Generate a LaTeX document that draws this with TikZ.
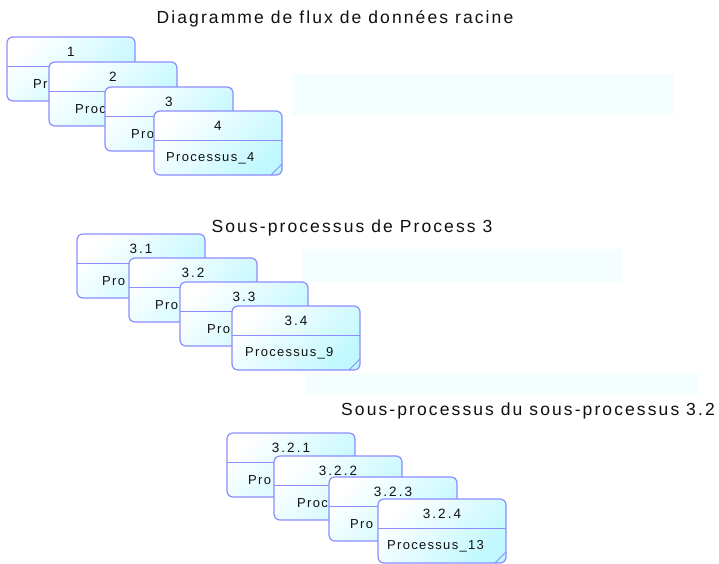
\documentclass[tikz,border=0pt]{standalone}
\usepackage{fontspec}
\setmainfont{Liberation Sans}
\newfontfamily\boxfont[LetterSpace=10]{Liberation Sans}
\newfontfamily\numfont[LetterSpace=15]{Liberation Sans}
\newfontfamily\titlefont[LetterSpace=12]{Liberation Sans}
\definecolor{boxline}{HTML}{8C8CFF}
\definecolor{boxfill}{HTML}{C0F8FF}
\definecolor{pale}{HTML}{F4FEFF}
\definecolor{txt}{HTML}{101010}
\tikzset{
  procbox/.style={draw=boxline, line width=1.2pt, rounded corners=6pt,
    top color=white, bottom color=boxfill, shading angle=45},
  numtxt/.style={font=\numfont\fontsize{13.5}{13.5}\selectfont, text=txt, anchor=center, inner sep=0pt},
  nametxt/.style={font=\boxfont\fontsize{13}{13}\selectfont, text=txt, anchor=west, inner sep=0pt},
  titletxt/.style={font=\titlefont\fontsize{17.5}{17.5}\selectfont, text=txt, anchor=center, inner sep=0pt},
  palebox/.style={fill=pale, draw=none}
}
% #1 name, #2 left, #3 top, #4 number, #5 label, #6 label offset
\newcommand{\procnode}[6]{%
  \path[procbox] (#2,#3) rectangle ++(128,64);
  \coordinate (#1-tl) at (#2,#3);
  \draw[boxline, line width=1pt] (#2,#3+29) -- ++(128,0);
  \draw[boxline, line width=0.8pt] (#2+128,#3+53) -- (#2+117,#3+64);
  \node[numtxt] (#1-num) at (#2+64,#3+14.5) {#4};
  \node[nametxt] (#1-name) at (#2+#6,#3+47) {#5};
}
\begin{document}
\begin{tikzpicture}[x=1pt,y=-1pt]
\useasboundingbox (0,0) rectangle (719,563);
\fill[white] (0,0) rectangle (719,563);
% pale background rectangles
\path[palebox] (292,74) rectangle (674,115);
\path[palebox] (302,249) rectangle (622,282);
\path[palebox] (306,373) rectangle (698,395);
% titles
\node[titletxt] (t1) at (335,19) {Diagramme de flux de données racine};
\node[titletxt] (t2) at (352,228) {Sous-processus de Process 3};
\node[titletxt] (t3) at (528,411) {Sous-processus du sous-processus 3.2};
% top group
\procnode{p1}{7}{37}{1}{Pr}{26}
\procnode{p2}{49}{62}{2}{Proc}{26}
\procnode{p3}{105}{87}{3}{Pro}{26}
\procnode{p4}{154}{111}{4}{Processus\_4}{12}
% middle group
\procnode{p31}{77}{234}{3.1}{Pro}{25}
\procnode{p32}{129}{258}{3.2}{Pro}{26}
\procnode{p33}{180}{282}{3.3}{Pro}{27}
\procnode{p34}{232}{306}{3.4}{Processus\_9}{13}
% bottom group
\procnode{p321}{227}{433}{3.2.1}{Pro}{21}
\procnode{p322}{274}{456}{3.2.2}{Proc}{23}
\procnode{p323}{329}{477}{3.2.3}{Pro}{21}
\procnode{p324}{378}{499}{3.2.4}{Processus\_13}{9}
\end{tikzpicture}
\end{document}
